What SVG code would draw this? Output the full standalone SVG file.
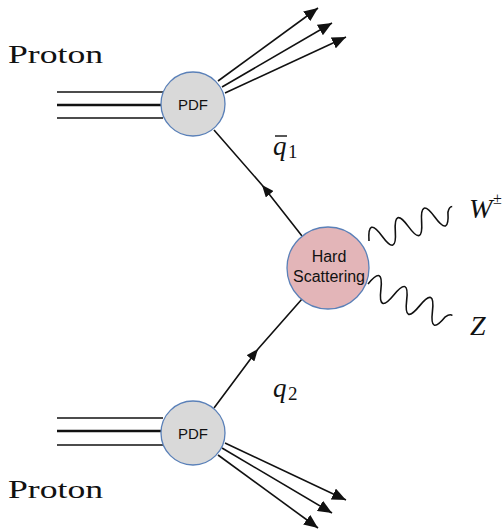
<svg xmlns="http://www.w3.org/2000/svg" width="503" height="531" viewBox="0 0 503 531">
  <style>
    .blob { stroke: #5a80b8; stroke-width: 1.3; }
    .pdf { fill: #d9d9d9; }
    .hard { fill: #e3b5b8; }
    .lbl { font-family: "Liberation Sans", Arial, sans-serif; fill: #111; text-anchor: middle; }
    .proton { font-family: "Liberation Serif", "Times New Roman", serif; font-size: 26px; fill: #111; }
    .math { font-family: "Liberation Serif", "Times New Roman", serif; fill: #111; }
    .line { stroke: #111; stroke-width: 1.6; fill: none; }
    .beam { stroke: #111; fill: none; }
    .wave { stroke: #111; stroke-width: 1.6; fill: none; }
  </style>
  <defs>
    <marker id="tip" markerUnits="userSpaceOnUse" markerWidth="16" markerHeight="12" refX="14" refY="6" orient="auto">
      <path d="M0,0 L14,6 L0,12 Z" fill="#111"/>
    </marker>
    <marker id="mid" markerUnits="userSpaceOnUse" markerWidth="14" markerHeight="10" refX="12" refY="5" orient="auto">
      <path d="M0,0 L12,5 L0,10 Z" fill="#111"/>
    </marker>
  </defs>

  <!-- connectors -->
  <g id="connectors">
    <!-- incoming proton beams -->
    <line class="beam" x1="57" y1="92" x2="163" y2="92" stroke-width="1.5"/>
    <line class="beam" x1="57" y1="105" x2="161" y2="105" stroke-width="2.6"/>
    <line class="beam" x1="57" y1="118" x2="163" y2="118" stroke-width="1.5"/>
    <line class="beam" x1="57" y1="418" x2="163" y2="418" stroke-width="1.5"/>
    <line class="beam" x1="57" y1="431" x2="161" y2="431" stroke-width="2.6"/>
    <line class="beam" x1="57" y1="445" x2="163" y2="445" stroke-width="1.5"/>

    <!-- proton remnants -->
    <line class="line" x1="218" y1="81" x2="318" y2="8" marker-end="url(#tip)"/>
    <line class="line" x1="222" y1="87" x2="332" y2="23" marker-end="url(#tip)"/>
    <line class="line" x1="225" y1="93" x2="346" y2="37" marker-end="url(#tip)"/>
    <line class="line" x1="225" y1="443" x2="346" y2="500" marker-end="url(#tip)"/>
    <line class="line" x1="222" y1="448" x2="332" y2="513" marker-end="url(#tip)"/>
    <line class="line" x1="218" y1="455" x2="318" y2="528" marker-end="url(#tip)"/>

    <!-- incoming quarks -->
    <polyline class="line" points="302,236 262,185 214,130" marker-mid="url(#mid)"/>
    <polyline class="line" points="214,408 258,349 302,299" marker-mid="url(#mid)"/>

    <!-- outgoing bosons -->
    <path class="wave" transform="translate(369,241) rotate(-20)"
          d="M0,0 q7,-24 14,0 t14,0 t14,0 t14,0 t14,0 t14,0 q3,-5 6,-4"/>
    <path class="wave" transform="translate(368,284) rotate(23)"
          d="M0,0 q7,-24 14,0 t14,0 t14,0 t14,0 t14,0 t14,0 q3,-5 6,-4"/>
  </g>

  <!-- upper parton distribution -->
  <g id="pdf-top">
    <circle class="blob pdf" cx="193" cy="104" r="32"/>
    <text class="lbl" x="193" y="110" font-size="15">PDF</text>
  </g>

  <!-- lower parton distribution -->
  <g id="pdf-bottom">
    <circle class="blob pdf" cx="193" cy="433" r="32"/>
    <text class="lbl" x="193" y="439" font-size="15">PDF</text>
  </g>

  <!-- hard process -->
  <g id="hard-scattering">
    <circle class="blob hard" cx="328" cy="268" r="41"/>
    <text class="lbl" x="329" y="262" font-size="16">Hard</text>
    <text class="lbl" x="329" y="282" font-size="16">Scattering</text>
  </g>

  <!-- labels -->
  <g id="labels">
    <text class="proton" x="8" y="63" textLength="95" lengthAdjust="spacingAndGlyphs">Proton</text>
    <text class="proton" x="8" y="498" textLength="95" lengthAdjust="spacingAndGlyphs">Proton</text>

    <text class="math" x="273" y="155" font-size="27" font-style="italic">q</text>
    <line x1="275" y1="136" x2="287" y2="136" stroke="#111" stroke-width="1.4"/>
    <text class="math" x="288" y="158" font-size="19">1</text>

    <text class="math" x="273" y="397" font-size="27" font-style="italic">q</text>
    <text class="math" x="288" y="400" font-size="19">2</text>

    <text class="math" x="469" y="218" font-size="28" font-style="italic">W</text>
    <text class="math" x="493" y="204" font-size="16">±</text>
    <text class="math" x="470" y="335" font-size="28" font-style="italic">Z</text>
  </g>
</svg>
